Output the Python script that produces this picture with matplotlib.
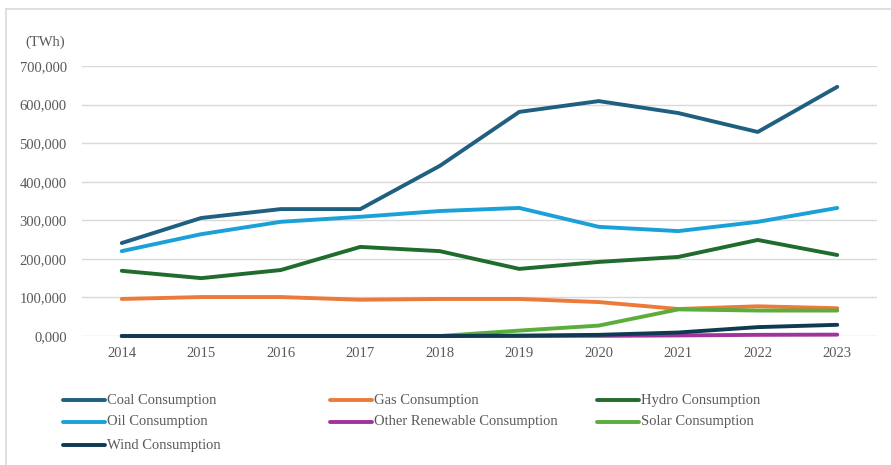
import matplotlib
matplotlib.use('Agg')
import matplotlib.pyplot as plt
from matplotlib.lines import Line2D
from matplotlib.ticker import FuncFormatter

plt.rcParams['font.family'] = ['Liberation Serif', 'DejaVu Serif']

years = ['2014', '2015', '2016', '2017', '2018', '2019', '2020', '2021', '2022', '2023']

coal = [241000, 306000, 329000, 329000, 441000, 581000, 609000, 578000, 529000, 646000]
gas = [96000, 101000, 101000, 94000, 96000, 96000, 88000, 70000, 77000, 72000]
hydro = [169000, 150000, 171000, 231000, 220000, 174000, 192000, 205000, 249000, 210000]
oil = [220000, 264000, 296000, 309000, 324000, 332000, 283000, 272000, 296000, 332000]
other_renew = [0, 0, 0, 0, 0, 0, 500, 1500, 3000, 3500]
solar = [0, 0, 0, 0, 0, 14000, 27000, 69000, 66000, 66000]
wind = [0, 0, 0, 0, 0, 1000, 3000, 9000, 23000, 29000]

series = [
    ('Coal Consumption', coal, '#1F5F80'),
    ('Gas Consumption', gas, '#EC7A38'),
    ('Hydro Consumption', hydro, '#206B2E'),
    ('Oil Consumption', oil, '#1AA1D8'),
    ('Other Renewable Consumption', other_renew, '#A0339C'),
    ('Solar Consumption', solar, '#5BAE3C'),
    ('Wind Consumption', wind, '#0E3A52'),
]

fig = plt.figure(figsize=(8.91, 4.65), dpi=100)
ax = fig.add_axes([82 / 891, 1 - 336 / 465, (877 - 82) / 891, (336 - 66) / 465])

x = list(range(len(years)))
# same order as the original, wind ends up on top at zero
for name, vals, color in series:
    ax.plot(x, vals, color=color, lw=2.8, solid_capstyle='round', solid_joinstyle='round',
            clip_on=False)

ax.set_xlim(-0.5, len(years) - 0.5)
ax.set_ylim(0, 700000)
ax.set_yticks(range(0, 700001, 100000))
ax.yaxis.set_major_formatter(FuncFormatter(lambda v, p: '{:,}'.format(int(v // 1000)) + ',000' if v >= 1000 else '0,000'))
ax.set_xticks(x)
ax.set_xticklabels(years)
ax.tick_params(axis='both', length=0, labelsize=10.5, colors='#595959', pad=8)
ax.tick_params(axis='y', pad=11)
ax.grid(axis='y', color='#D9D9D9', lw=1)
ax.set_axisbelow(True)
for s in ['top', 'right', 'left', 'bottom']:
    ax.spines[s].set_visible(False)

fig.text(25 / 891, 1 - 42 / 465, '(TWh)', fontsize=10.5, color='#595959', va='center')

# chart frame (left and top edges)
fig.add_artist(Line2D([6 / 891, 6 / 891], [0, 1 - 9 / 465], color='#D9D9D9', lw=1.2))
fig.add_artist(Line2D([6 / 891, 1], [1 - 9 / 465, 1 - 9 / 465], color='#D9D9D9', lw=1.2))

# legend, row by row in three columns
col_x = [63, 330, 597]
row_y = [400, 422, 445]
for i, (name, vals, color) in enumerate(series):
    cx = col_x[i % 3]
    cy = row_y[i // 3]
    fig.add_artist(Line2D([cx / 891, (cx + 42) / 891], [1 - cy / 465] * 2,
                          color=color, lw=2.8, solid_capstyle='round'))
    fig.text((cx + 44) / 891, 1 - cy / 465, name, fontsize=10.5, color='#595959', va='center')

fig.savefig('out.png', dpi=100)
